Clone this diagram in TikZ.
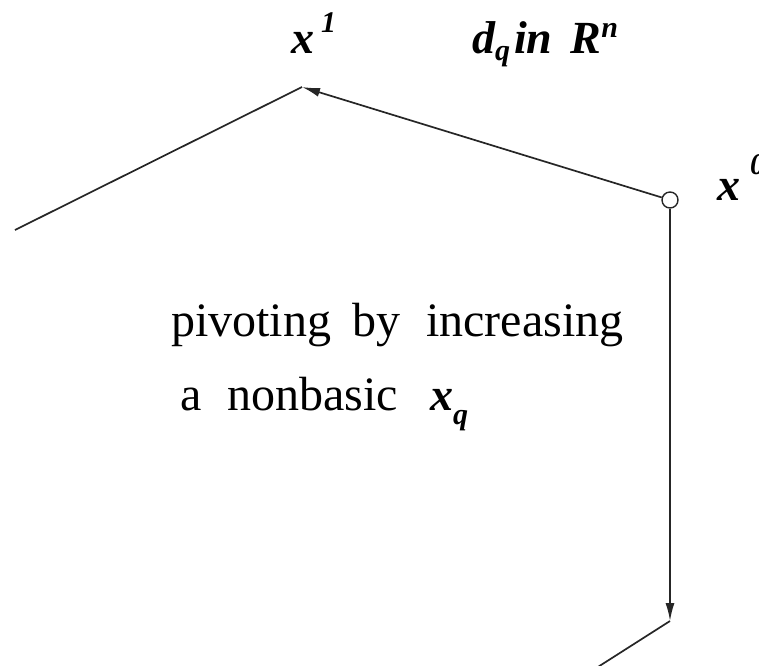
\documentclass[tikz,border=0pt]{standalone}
\usepackage{fontspec}
\setmainfont{Liberation Serif}
\usetikzlibrary{arrows.meta}
\tikzset{
  edge/.style={line width=1.7pt, draw=black!85},
  arr/.style={edge, -{Latex[length=18pt,width=9pt]}},
  lbl/.style={inner sep=0pt, anchor=base west, font=\fontsize{46}{46}\selectfont\bfseries\itshape},
  txt/.style={inner sep=0pt, anchor=base west, font=\fontsize{48}{48}\selectfont},
}
\newcommand{\smallbi}[1]{{\fontsize{30}{30}\selectfont\bfseries\itshape #1}}
\begin{document}
\begin{tikzpicture}[x=1pt,y=-1pt]
\useasboundingbox (0,0) rectangle (759,665);
\clip (0,0) rectangle (759,665);
% vertices
\coordinate (L) at (15,230);
\coordinate (X1) at (302,87);
\node[draw=black!85, line width=1.4pt, circle, minimum size=16pt, inner sep=0pt] (X0) at (670,200) {};
\coordinate (B) at (670,621);
\coordinate (BL) at (590,672);
% edges
\draw[edge] (L) -- (X1);
\draw[arr] (X0) -- (X1);
\draw[arr] (X0) -- (B);
\draw[edge] (B) -- (BL);
% labels
\node[lbl] (lx1) at (291,53) {x\hspace{7pt}\raisebox{21pt}{\smallbi{1}}};
\node[lbl] (ldq) at (472,53) {d\raisebox{-7pt}{\smallbi{q}}\hspace{4pt}in\hspace{18pt}R\raisebox{16pt}{\smallbi{n}}};
\node[lbl] (lx0) at (717,200) {x\hspace{10pt}\raisebox{26pt}{\smallbi{0}}};
% text
\node[txt] (t1) at (171,336) {pivoting\hspace{9pt} by\hspace{14pt} increasing};
\node[txt] (t2) at (180,410) {a\hspace{14pt} nonbasic\hspace{20pt} {\fontsize{46}{46}\selectfont\bfseries\itshape x\raisebox{-14pt}{\smallbi{q}}}};
\end{tikzpicture}
\end{document}
